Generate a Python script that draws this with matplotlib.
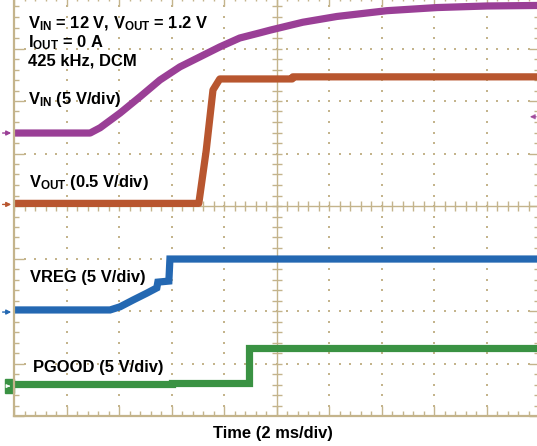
import matplotlib
matplotlib.use("Agg")
import matplotlib.pyplot as plt
import numpy as np
from matplotlib.patches import Rectangle

# scope traces in divisions (x: 10 div, y: 8 div)
vin_t = [0, 1.45, 1.64, 2.02, 2.40, 2.78, 3.16, 3.54, 3.92, 4.30, 4.69, 4.88, 5.50, 6.15, 7.10, 8.06, 9.01, 10]
vin_v = [5.39, 5.39, 5.49, 5.77, 6.08, 6.40, 6.65, 6.84, 7.03, 7.20, 7.30, 7.35, 7.50, 7.61, 7.72, 7.78, 7.81, 7.82]

vout_t = [0, 3.52, 3.66, 3.79, 3.92, 5.30, 5.31, 10]
vout_v = [4.05, 4.05, 5.05, 6.21, 6.42, 6.42, 6.46, 6.46]

vreg_t = [0, 1.83, 2.02, 2.27, 2.53, 2.72, 2.74, 2.95, 2.97, 10]
vreg_v = [2.02, 2.02, 2.08, 2.21, 2.34, 2.44, 2.55, 2.57, 2.99, 2.99]

pgood_t = [0, 3.01, 3.01, 4.48, 4.48, 10]
pgood_v = [0.61, 0.61, 0.63, 0.63, 1.29, 1.29]

# channel reference markers (div)
ref_levels = {"vin": 5.39, "vout": 4.03, "vreg": 1.98, "pgood": 0.57}

C_VIN = "#9a3f96"
C_VOUT = "#b8562f"
C_VREG = "#2468b2"
C_PGOOD = "#3a9243"
C_GRID = "#c4b48c"

W, H = 537, 446
plt.rcParams["font.family"] = "Liberation Sans"
plt.rcParams["font.weight"] = "bold"
plt.rcParams["mathtext.fontset"] = "custom"
plt.rcParams["mathtext.rm"] = "Liberation Sans:bold"
plt.rcParams["mathtext.it"] = "Liberation Sans:bold"
plt.rcParams["mathtext.bf"] = "Liberation Sans:bold"
plt.rcParams["mathtext.default"] = "rm"

fig = plt.figure(figsize=(W / 100, H / 100), dpi=100)
div = 52.5
ax = fig.add_axes([14 / W, 30 / H, 10 * div / W, 8 * div / H])
ax.set_xlim(0, 10)
ax.set_ylim(0, 8)

# graticule: dotted lines every division, dots every 1/5 division
fine = np.arange(0, 10.01, 0.2)
fine_y = np.arange(0, 8.01, 0.2)
for i in range(1, 10):
    if i != 5:
        ax.plot(np.full_like(fine_y, i), fine_y, ls="none", marker="s", ms=1.6, color=C_GRID, mew=0)
for j in range(1, 8):
    if j != 4:
        ax.plot(fine, np.full_like(fine, j), ls="none", marker="s", ms=1.6, color=C_GRID, mew=0)

# center crosshair with tick marks
ax.axhline(4, color=C_GRID, lw=1.0)
ax.axvline(5, color=C_GRID, lw=1.0)
ax.plot(fine, np.full_like(fine, 4), ls="none", marker="|", ms=6.5, mew=1.0, color=C_GRID)
ax.plot(np.full_like(fine_y, 5), fine_y, ls="none", marker="_", ms=6.5, mew=1.0, color=C_GRID)

for s in ax.spines.values():
    s.set_color(C_GRID)
    s.set_linewidth(1.6)
ax.set_xticks(range(0, 11))
ax.set_yticks(range(0, 9))
ax.set_xticks(fine, minor=True)
ax.set_yticks(fine_y, minor=True)
ax.tick_params(which="both", direction="in", color=C_GRID, labelbottom=False, labelleft=False,
               top=True, right=True, width=1.0)
ax.tick_params(which="major", length=7.5)
ax.tick_params(which="minor", length=3.5)

# traces
lw = 5.2
ax.plot(vin_t, vin_v, color=C_VIN, lw=lw, solid_joinstyle="round")
ax.plot(vout_t, vout_v, color=C_VOUT, lw=lw, solid_joinstyle="round")
ax.plot(vreg_t, vreg_v, color=C_VREG, lw=lw, solid_joinstyle="miter")
ax.plot(pgood_t, pgood_v, color=C_PGOOD, lw=lw, solid_joinstyle="miter")

# reference arrows on the left edge
for key, col in [("vin", C_VIN), ("vout", C_VOUT), ("vreg", C_VREG)]:
    y = ref_levels[key]
    ax.annotate("", xy=(0, y), xytext=(-0.27, y), annotation_clip=False,
                arrowprops=dict(arrowstyle="-|>", color=col, lw=1.0, mutation_scale=7))
ax.add_patch(Rectangle((-0.17, ref_levels["pgood"] - 0.13), 0.17, 0.27, color=C_PGOOD, clip_on=False))
ax.annotate("", xy=(-0.02, ref_levels["pgood"]), xytext=(-0.15, ref_levels["pgood"]), annotation_clip=False,
            arrowprops=dict(arrowstyle="-|>", color="white", lw=0.8, mutation_scale=5))
# trigger level marker on the right
ax.annotate("", xy=(9.77, 5.70), xytext=(10.0, 5.70), annotation_clip=False,
            arrowprops=dict(arrowstyle="-|>", color=C_VIN, lw=1.0, mutation_scale=7, alpha=0.7))


def ftext(x, y, s, **kw):
    fig.text(x / W, 1 - y / H, s, fontsize=11.9, fontweight="bold", va="baseline", **kw)


ftext(28, 28, r"$\mathrm{V_{IN}}$ = 12 V, $\mathrm{V_{OUT}}$ = 1.2 V")
ftext(28, 47, r"$\mathrm{I_{OUT}}$ = 0 A")
ftext(28, 66, "425 kHz, DCM")
ftext(28, 104, r"$\mathrm{V_{IN}}$ (5 V/div)")
ftext(29, 187, r"$\mathrm{V_{OUT}}$ (0.5 V/div)")
ftext(30, 282, "VREG (5 V/div)")
ftext(33, 372, "PGOOD (5 V/div)")
ftext(273, 438, "Time (2 ms/div)", ha="center")

fig.savefig("out.png", dpi=100)
